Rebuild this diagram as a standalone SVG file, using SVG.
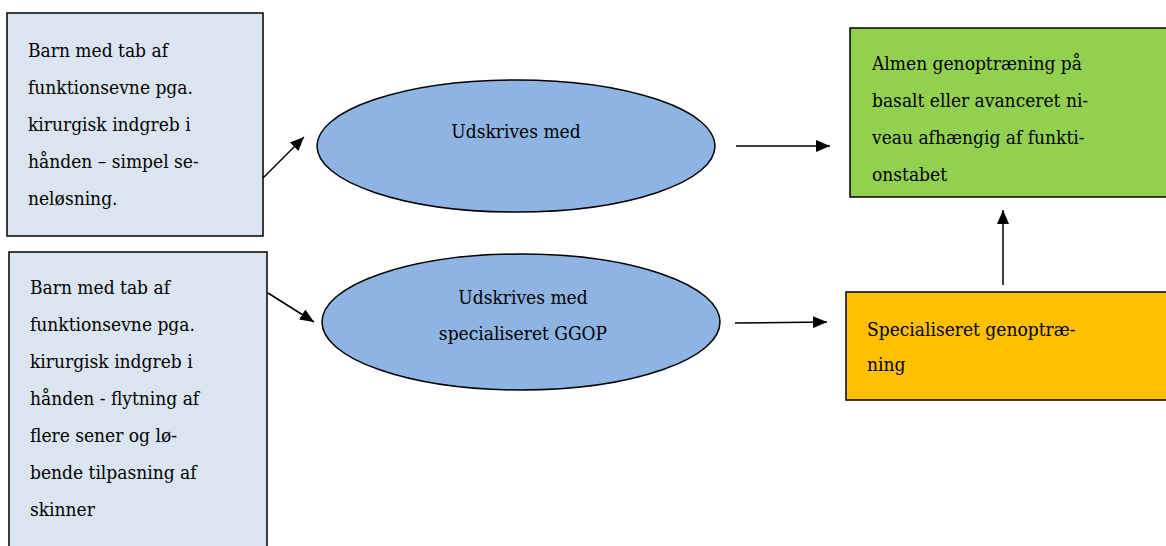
<svg xmlns="http://www.w3.org/2000/svg" width="1166" height="546" viewBox="0 0 1166 546" font-family="DejaVu Serif, serif" font-size="19" font-stretch="condensed">
<style>
.box{stroke:#000;stroke-width:1.5}
.c{stroke:#000;stroke-width:1.5;fill:none;marker-end:url(#ah)}
.m{text-anchor:middle}
</style>
<defs>
<marker id="ah" viewBox="0 0 14 12" refX="14" refY="6" markerWidth="14" markerHeight="12" markerUnits="userSpaceOnUse" orient="auto">
<path d="M0,0 L14,6 L0,12 z" fill="#000"/>
</marker>
</defs>
<rect width="1166" height="546" fill="#fff"/>
<g id="box1">
<rect class="box" x="7" y="13" width="256" height="223" fill="#dbe5f1"/>
<text x="28" y="57">Barn med tab af</text>
<text x="28" y="94">funktionsevne pga.</text>
<text x="28" y="131">kirurgisk indgreb i</text>
<text x="28" y="168">hånden – simpel se-</text>
<text x="28" y="205">neløsning.</text>
</g>
<g id="box2">
<rect class="box" x="9" y="252" width="258" height="300" fill="#dbe5f1"/>
<text x="30" y="294">Barn med tab af</text>
<text x="30" y="331">funktionsevne pga.</text>
<text x="30" y="368">kirurgisk indgreb i</text>
<text x="30" y="405">hånden - flytning af</text>
<text x="30" y="442">flere sener og lø-</text>
<text x="30" y="479">bende tilpasning af</text>
<text x="30" y="516">skinner</text>
</g>
<g id="ell1">
<ellipse class="box" cx="516" cy="146" rx="199" ry="66" fill="#8eb4e3"/>
<text class="m" x="516" y="138">Udskrives med</text>
</g>
<g id="ell2">
<ellipse class="box" cx="521" cy="322" rx="199" ry="68" fill="#8eb4e3"/>
<text class="m" x="523" y="304">Udskrives med</text>
<text class="m" x="523" y="340">specialiseret GGOP</text>
</g>
<g id="green">
<rect class="box" x="850" y="28" width="320" height="169" fill="#92d050"/>
<text x="872" y="70">Almen genoptræning på</text>
<text x="872" y="107">basalt eller avanceret ni-</text>
<text x="872" y="144">veau afhængig af funkti-</text>
<text x="872" y="181">onstabet</text>
</g>
<g id="orange">
<rect class="box" x="846" y="292" width="324" height="108" fill="#ffc000"/>
<text x="867" y="336">Specialiseret genoptræ-</text>
<text x="867" y="371">ning</text>
</g>
<g id="connectors">
<path class="c" d="M263,178 L304,137"/>
<path class="c" d="M268,293 L314,322"/>
<path class="c" d="M736,146 L830,146"/>
<path class="c" d="M735,323 L827,322"/>
<path class="c" d="M1003,285 L1003,210"/>
</g>
</svg>
